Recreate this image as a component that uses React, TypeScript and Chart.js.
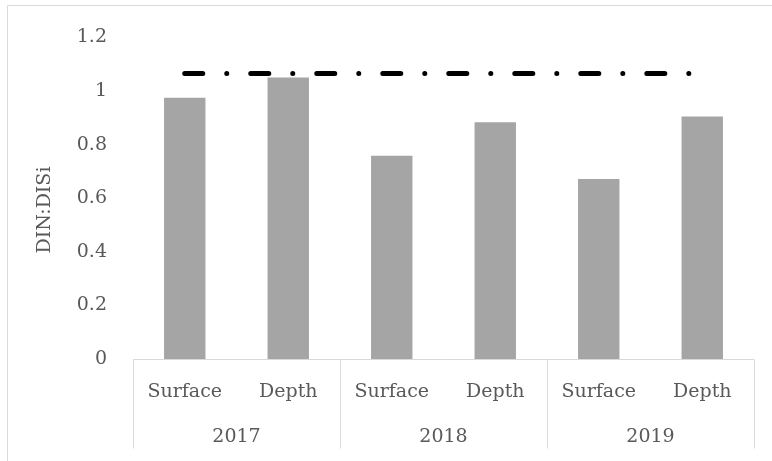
import React, { useEffect, useRef } from "react";
import { Chart, registerables } from "chart.js";

Chart.register(...registerables);

const categories = ["Surface", "Depth", "Surface", "Depth", "Surface", "Depth"];
const years = ["2017", "2018", "2019"];
const ratioValues = [0.975, 1.05, 0.758, 0.883, 0.672, 0.905];
const thresholdValues = [1.065, 1.065, 1.065, 1.065, 1.065, 1.065];
const yAxisTitle = "DIN:DISi";

const FONT = "DejaVu Serif";
const TEXT_COLOR = "#595959";
const LINE_COLOR = "#d9d9d9";

const decorPlugin = {
  id: "decor",
  beforeDraw(chart: any) {
    const ctx = chart.ctx;
    ctx.save();
    ctx.strokeStyle = LINE_COLOR;
    ctx.lineWidth = 1;
    ctx.beginPath();
    ctx.moveTo(7.5, chart.height);
    ctx.lineTo(7.5, 5.5);
    ctx.lineTo(chart.width, 5.5);
    ctx.stroke();
    ctx.restore();
  },
  afterDraw(chart: any) {
    const ctx = chart.ctx;
    const x = chart.scales.x;
    const area = chart.chartArea;
    const n = categories.length;
    const catW = (area.right - area.left) / n;
    ctx.save();
    ctx.strokeStyle = LINE_COLOR;
    ctx.lineWidth = 1;
    const yb = Math.round(area.bottom) + 0.5;
    ctx.beginPath();
    ctx.moveTo(area.left, yb);
    ctx.lineTo(area.right, yb);
    const groups = years.length;
    const perGroup = n / groups;
    for (let g = 0; g <= groups; g++) {
      const px = Math.round(area.left + g * perGroup * catW) + 0.5;
      ctx.moveTo(px, yb);
      ctx.lineTo(px, yb + 89);
    }
    ctx.stroke();

    ctx.fillStyle = TEXT_COLOR;
    ctx.font = `19px "${FONT}"`;
    ctx.textAlign = "center";
    ctx.textBaseline = "alphabetic";
    categories.forEach((c, i) => {
      const cx = x.getPixelForValue(i);
      ctx.fillText(c, cx, yb + 37);
    });
    years.forEach((yr, g) => {
      const cx = area.left + (g + 0.5) * perGroup * catW;
      ctx.fillText(yr, cx, yb + 82);
    });

    ctx.textBaseline = "middle";
    ctx.translate(45, 210);
    ctx.rotate(-Math.PI / 2);
    ctx.fillText(yAxisTitle, 0, 0);
    ctx.restore();
  },
};

export default function App() {
  const ref = useRef<HTMLCanvasElement | null>(null);
  useEffect(() => {
    if (!ref.current) return;
    const chart = new Chart(ref.current, {
      type: "bar",
      data: {
        labels: categories,
        datasets: [
          {
            type: "line",
            data: thresholdValues,
            borderColor: "#000000",
            borderWidth: 5,
            borderDash: [18, 24, 0.01, 24],
            borderCapStyle: "round",
            pointRadius: 0,
            fill: false,
            order: 0,
          } as any,
          {
            type: "bar",
            data: ratioValues,
            backgroundColor: "#a5a5a5",
            categoryPercentage: 1,
            barPercentage: 0.4,
            order: 1,
          },
        ],
      },
      options: {
        animation: false,
        responsive: false,
        layout: { padding: { left: 0, top: 33, right: 18, bottom: 0 } },
        plugins: {
          legend: { display: false },
          tooltip: { enabled: false },
        },
        scales: {
          x: {
            grid: { display: false },
            border: { display: false },
            ticks: { display: false },
            afterFit: (s: any) => {
              s.height = 102;
            },
          },
          y: {
            min: 0,
            max: 1.2,
            grid: { display: false, drawTicks: false },
            border: { display: false },
            ticks: {
              stepSize: 0.2,
              padding: 26,
              color: TEXT_COLOR,
              font: { family: FONT, size: 19 },
              callback: (v: any) => String(Number(Number(v).toFixed(1))),
            },
            afterFit: (s: any) => {
              s.width = 133;
            },
          },
        },
      },
      plugins: [decorPlugin],
    });
    return () => chart.destroy();
  }, []);
  return (
    <div style={{ position: "absolute", left: 0, top: 0, width: 772, height: 461, background: "#fff" }}>
      <canvas ref={ref} width={772} height={461} />
    </div>
  );
}
